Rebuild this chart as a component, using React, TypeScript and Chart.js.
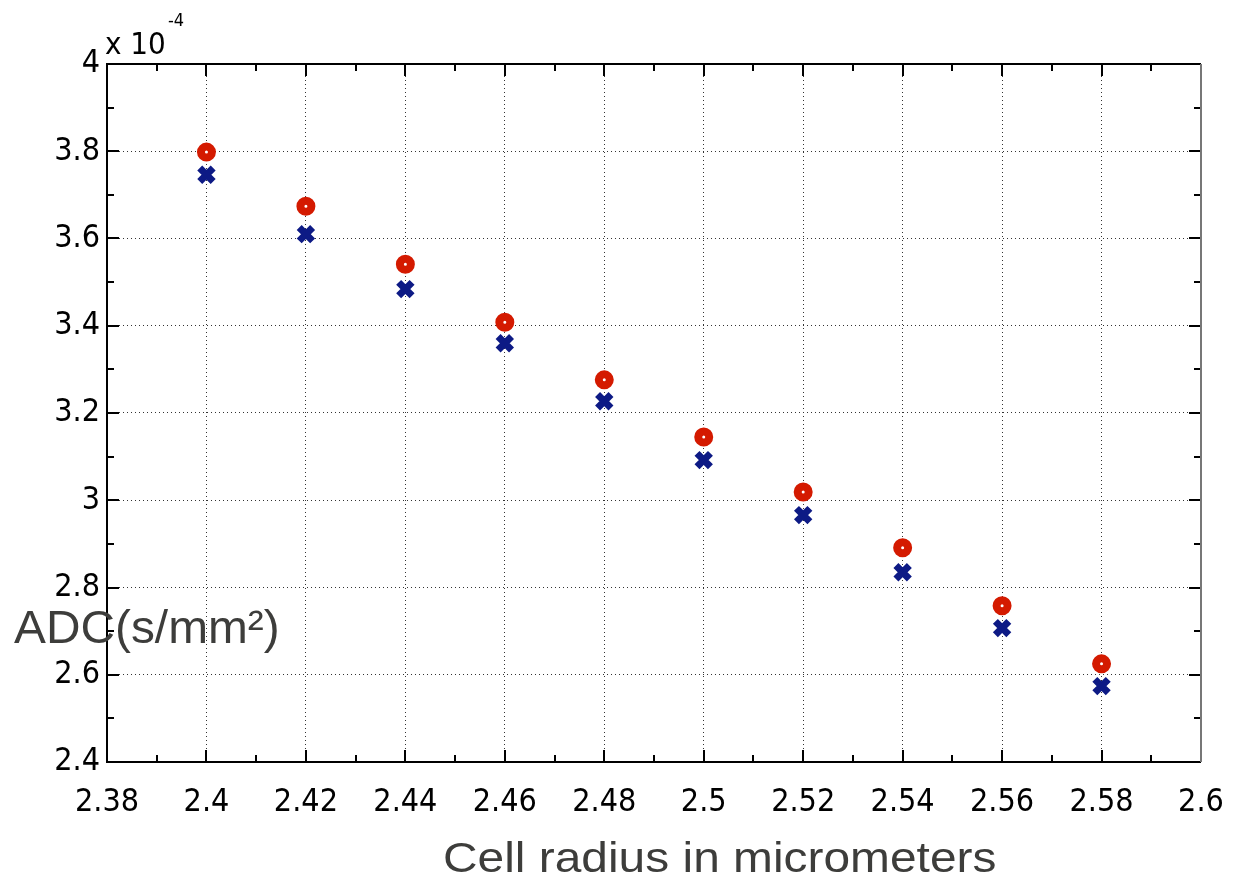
import React, { useEffect, useRef } from "react";
import { Chart, registerables } from "chart.js";

Chart.register(...registerables);

// Cell radius (micrometers)
const radii = [2.4, 2.42, 2.44, 2.46, 2.48, 2.5, 2.52, 2.54, 2.56, 2.58];
// ADC values (x 10^-4 s/mm²)
const adcCircle = [3.798, 3.674, 3.541, 3.408, 3.276, 3.145, 3.019, 2.891, 2.758, 2.625];
const adcCross = [3.746, 3.61, 3.484, 3.36, 3.227, 3.092, 2.966, 2.835, 2.707, 2.574];

const xTicks = [2.38, 2.4, 2.42, 2.44, 2.46, 2.48, 2.5, 2.52, 2.54, 2.56, 2.58, 2.6];
const yTicks = [2.4, 2.6, 2.8, 3.0, 3.2, 3.4, 3.6, 3.8, 4.0];

const W = 1240;
const H = 880;

const frameTicks = {
  id: "frameTicks",
  afterDraw(chart: any) {
    const { ctx, chartArea, scales } = chart;
    const { left, right, top, bottom } = chartArea;
    const x = scales.x;
    const y = scales.y;
    ctx.save();
    ctx.strokeStyle = "#000";
    ctx.lineWidth = 2;
    const major = 12;
    const minor = 7;
    ctx.beginPath();
    const xs: [number, number][] = [];
    for (let i = 0; i < xTicks.length; i++) {
      xs.push([xTicks[i], major]);
      if (i < xTicks.length - 1) xs.push([(xTicks[i] + xTicks[i + 1]) / 2, minor]);
    }
    xs.forEach(([v, len]) => {
      const px = Math.round(x.getPixelForValue(v));
      ctx.moveTo(px, bottom);
      ctx.lineTo(px, bottom - len);
      ctx.moveTo(px, top);
      ctx.lineTo(px, top + len);
    });
    const ys: [number, number][] = [];
    for (let i = 0; i < yTicks.length; i++) {
      ys.push([yTicks[i], major]);
      if (i < yTicks.length - 1) ys.push([(yTicks[i] + yTicks[i + 1]) / 2, minor]);
    }
    ys.forEach(([v, len]) => {
      const py = Math.round(y.getPixelForValue(v));
      ctx.moveTo(left, py);
      ctx.lineTo(left + len, py);
      ctx.moveTo(right, py);
      ctx.lineTo(right - len, py);
    });
    ctx.stroke();
    // frame
    ctx.beginPath();
    ctx.moveTo(right, top);
    ctx.lineTo(left, top);
    ctx.lineTo(left, bottom);
    ctx.lineTo(right, bottom);
    ctx.stroke();
    ctx.strokeStyle = "#777";
    ctx.beginPath();
    ctx.moveTo(right, top);
    ctx.lineTo(right, bottom);
    ctx.stroke();
    ctx.restore();
  },
};

const fmt = (v: number) => String(Number(v.toFixed(2)));
const tickFont = { family: "'DejaVu Sans Condensed', 'DejaVu Sans'", size: 32 };

export default function App() {
  const ref = useRef<HTMLCanvasElement | null>(null);
  useEffect(() => {
    if (!ref.current) return;
    const chart = new Chart(ref.current, {
      type: "scatter",
      data: {
        datasets: [
          {
            label: "circle",
            data: radii.map((r, i) => ({ x: r, y: adcCircle[i] })),
            pointStyle: "circle",
            pointRadius: 5.5,
            borderWidth: 8,
            pointBorderColor: "#d41a00",
            pointBackgroundColor: "#ffffff",
            showLine: false,
          },
          {
            label: "cross",
            data: radii.map((r, i) => ({ x: r, y: adcCross[i] })),
            pointStyle: "crossRot",
            pointRadius: 9.5,
            borderWidth: 7,
            pointBorderColor: "#0d1a85",
            pointBackgroundColor: "#0d1a85",
            showLine: false,
          },
        ],
      },
      plugins: [frameTicks],
      options: {
        animation: false,
        responsive: false,
        devicePixelRatio: 1,
        layout: { padding: { left: 0, top: 64, right: 39, bottom: 0 } },
        plugins: { legend: { display: false }, tooltip: { enabled: false } },
        scales: {
          x: {
            type: "linear",
            min: 2.38,
            max: 2.6,
            afterBuildTicks: (s: any) => {
              s.ticks = xTicks.map((v) => ({ value: v }));
            },
            afterFit: (s: any) => {
              s.height = 118;
              s.paddingLeft = 0;
              s.paddingRight = 0;
            },
            ticks: {
              callback: (v: any) => fmt(Number(v)),
              font: tickFont,
              color: "#000",
              padding: 21,
              maxRotation: 0,
              autoSkip: false,
            },
            grid: { color: "#333", lineWidth: 1, drawTicks: false },
            border: { display: false, dash: [1, 3] },
          },
          y: {
            type: "linear",
            min: 2.4,
            max: 4.0,
            afterBuildTicks: (s: any) => {
              s.ticks = yTicks.map((v) => ({ value: v }));
            },
            afterFit: (s: any) => {
              s.width = 107;
              s.paddingTop = 0;
              s.paddingBottom = 0;
            },
            ticks: {
              callback: (v: any) => fmt(Number(v)),
              font: tickFont,
              color: "#000",
              padding: 7,
              autoSkip: false,
            },
            grid: { color: "#333", lineWidth: 1, drawTicks: false },
            border: { display: false, dash: [1, 3] },
          },
        },
      },
    });
    return () => chart.destroy();
  }, []);

  return (
    <div style={{ position: "fixed", left: 0, top: 0, width: W, height: H, background: "#fff", overflow: "hidden" }}>
      <canvas ref={ref} width={W} height={H} style={{ position: "absolute", left: 0, top: 0 }} />
      <div
        style={{
          position: "absolute",
          left: 105,
          top: 28,
          fontFamily: "'DejaVu Sans Condensed', 'DejaVu Sans'",
          fontSize: 31,
          lineHeight: 1,
          color: "#000",
          whiteSpace: "nowrap",
        }}
      >
        x 10
      </div>
      <div
        style={{
          position: "absolute",
          left: 168,
          top: 11,
          fontFamily: "'DejaVu Sans Condensed', 'DejaVu Sans'",
          fontSize: 18,
          lineHeight: 1,
          color: "#000",
          whiteSpace: "nowrap",
        }}
      >
        -4
      </div>
      <div
        style={{
          position: "absolute",
          left: 14,
          top: 604,
          fontFamily: "'Liberation Sans', Arial, sans-serif",
          fontSize: 46,
          lineHeight: 1,
          color: "#3d3d3b",
          whiteSpace: "nowrap",
          transform: "scaleX(1.04)",
          transformOrigin: "left top",
        }}
      >
        ADC(s/mm²)
      </div>
      <div
        style={{
          position: "absolute",
          left: 443,
          top: 837,
          fontFamily: "'Liberation Sans', Arial, sans-serif",
          fontSize: 42,
          lineHeight: 1,
          color: "#3d3d3b",
          whiteSpace: "nowrap",
          transform: "scaleX(1.14)",
          transformOrigin: "left top",
        }}
      >
        Cell radius in micrometers
      </div>
    </div>
  );
}
